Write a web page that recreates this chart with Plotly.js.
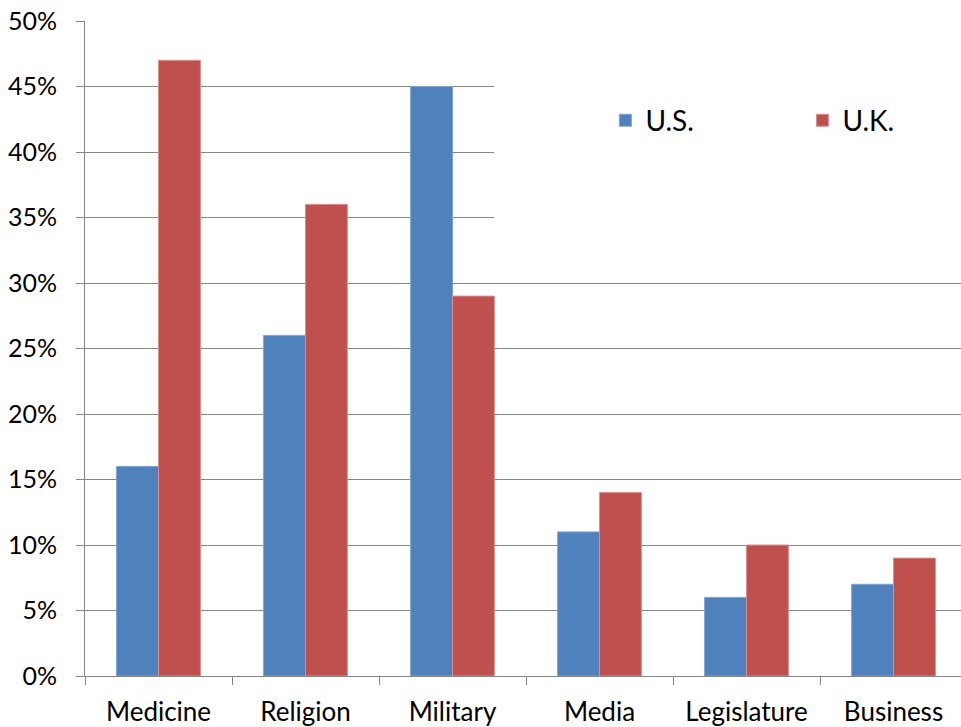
<!DOCTYPE html>
<html>
<head>
<meta charset="utf-8">
<script src="https://cdn.plot.ly/plotly-3.0.1.min.js"></script>
<style>
  html, body { margin: 0; padding: 0; background: #fff; overflow: hidden; }
  #chart { width: 967px; height: 727px; }
</style>
</head>
<body>
<div id="chart"></div>
<script>
// Confidence in institutions, U.S. vs U.K. (percent)
const categories = ["Medicine", "Religion", "Military", "Media", "Legislature", "Business"];
const usValues = [16, 26, 45, 11, 6, 7];
const ukValues = [47, 36, 29, 14, 10, 9];
const seriesNames = ["U.S.", "U.K."];

const FONT = "Lato, 'Open Sans', sans-serif";
const GRID = "#868686";

const traces = [
  {
    type: "bar",
    name: seriesNames[0],
    x: categories,
    y: usValues,
    marker: { color: "#4F81BD", line: { color: "#7FA3CF", width: 1 } },
    hoverinfo: "skip"
  },
  {
    type: "bar",
    name: seriesNames[1],
    x: categories,
    y: ukValues,
    marker: { color: "#C0504D", line: { color: "#D8908E", width: 1 } },
    hoverinfo: "skip"
  }
];

const layout = {
  width: 967,
  height: 727,
  margin: { l: 85, r: 0, t: 21, b: 51, autoexpand: false },
  paper_bgcolor: "#fff",
  plot_bgcolor: "#fff",
  font: { family: FONT, size: 26, color: "#000" },
  barmode: "group",
  bargap: 0.43,
  bargroupgap: 0,
  showlegend: true,
  legend: {
    orientation: "h",
    x: 0.59, xanchor: "left",
    y: 0.848, yanchor: "middle",
    bgcolor: "rgba(0,0,0,0)",
    font: { family: FONT, size: 28, color: "#000" },
    entrywidth: 152,
    entrywidthmode: "pixels",
    traceorder: "normal"
  },
  xaxis: {
    type: "category",
    domain: [0, 1],
    showline: true,
    linecolor: GRID,
    linewidth: 1,
    ticks: "outside",
    tickson: "boundaries",
    ticklen: 8,
    tickcolor: GRID,
    showgrid: false,
    tickfont: { family: FONT, size: 26, color: "#000" },
    ticklabelstandoff: 13,
    fixedrange: true
  },
  yaxis: {
    range: [0, 50],
    dtick: 5,
    tick0: 0,
    ticksuffix: "%",
    showline: true,
    linecolor: GRID,
    linewidth: 1,
    ticks: "outside",
    ticklen: 8,
    tickcolor: GRID,
    showgrid: true,
    gridcolor: GRID,
    gridwidth: 1,
    zeroline: false,
    tickfont: { family: FONT, size: 25, color: "#000" },
    ticklabelstandoff: 14,
    fixedrange: true
  },
  shapes: [
    {
      // white legend panel over the upper right part of the plot area
      type: "rect",
      layer: "above",
      xref: "paper", yref: "paper",
      x0: 0.4637, x1: 1.01,
      y0: 0.64, y1: 1.03,
      fillcolor: "#ffffff",
      line: { width: 0 }
    }
  ]
};

Plotly.newPlot("chart", traces, layout, { displayModeBar: false, staticPlot: true });
</script>
</body>
</html>
